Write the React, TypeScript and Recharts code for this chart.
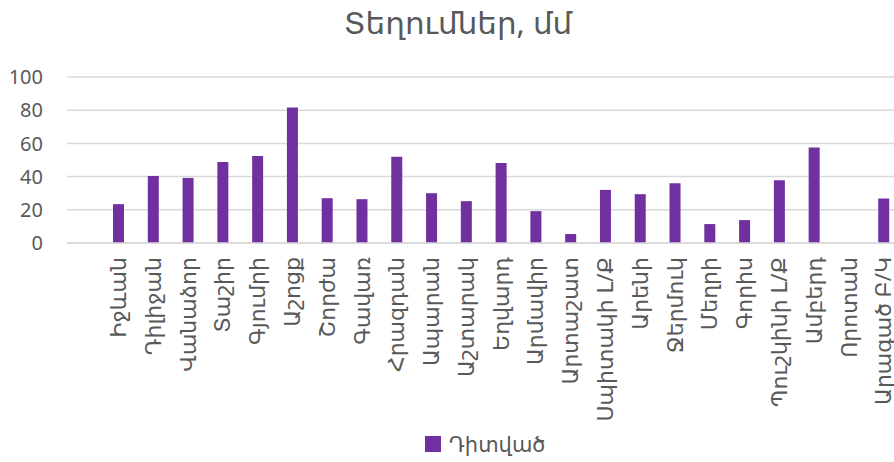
import { BarChart, Bar, XAxis, YAxis, CartesianGrid } from "recharts";

const stations = [
  "Իջևան", "Դիլիջան", "Վանաձոր", "Տաշիր", "Գյումրի", "Աշոցք", "Շորժա", "Գավառ",
  "Հրազդան", "Ապարան", "Աշտարակ", "Եղվարդ", "Արմավիր", "Արտաշատ", "Սպիտակի Լ/Ք",
  "Արենի", "Ջերմուկ", "Մեղրի", "Գորիս", "Պուշկինի Լ/Ք", "Ամբերդ", "Որոտան", "Արագած Բ/Կ",
];
const observed = [
  23.4, 40.4, 39.2, 48.8, 52.4, 81.6, 27, 26.4, 52, 30, 25.2, 48.2, 19.2, 5.4, 32,
  29.4, 36, 11.4, 13.8, 37.8, 57.6, null, 26.8,
];
const yTicks = [0, 20, 40, 60, 80, 100];

const data = stations.map((name, i) => ({ name, observed: observed[i] }));

const FONT = "'Noto Sans', 'DejaVu Sans', sans-serif";
const TEXT = "#595959";
const PURPLE = "#7030A0";

function StationTick({ x, y, payload }: any) {
  return (
    <text
      x={x}
      y={y}
      dy="0.35em"
      transform={`rotate(-90 ${x} ${y})`}
      textAnchor="end"
      fill={TEXT}
      fontSize={22}
      fontFamily={FONT}
    >
      {payload.value}
    </text>
  );
}

export default function App() {
  return (
    <div style={{ position: "fixed", left: 0, top: 0, width: 894, height: 462, overflow: "hidden", background: "#fff" }}>
      <div
        style={{
          position: "absolute", left: 0, width: 916, top: 1, textAlign: "center",
          fontSize: 31, color: TEXT, fontFamily: FONT,
        }}
      >
        Տեղումներ, մմ
      </div>
      <BarChart
        width={910}
        height={462}
        data={data}
        margin={{ top: 77, right: 9, left: 0, bottom: 58 }}
      >
        <CartesianGrid vertical={false} stroke="#d9d9d9" strokeWidth={1.5} />
        <XAxis
          dataKey="name"
          interval={0}
          height={161}
          padding={{ left: 34, right: 0 }}
          tickLine={false}
          axisLine={{ stroke: "#d9d9d9", strokeWidth: 1.5 }}
          tick={<StationTick />}
          tickMargin={8}
        />
        <YAxis
          width={67}
          domain={[0, 100]}
          ticks={yTicks}
          axisLine={false}
          tickLine={false}
          tickMargin={18}
          tick={{ fill: TEXT, fontSize: 20, fontFamily: FONT }}
        />
        <Bar dataKey="observed" fill={PURPLE} barSize={11} isAnimationActive={false} />
      </BarChart>
      <div
        style={{
          position: "absolute", left: 425, top: 430, display: "flex", alignItems: "center",
          fontSize: 21, color: TEXT, fontFamily: FONT,
        }}
      >
        <span style={{ display: "inline-block", width: 16, height: 16, background: PURPLE, marginRight: 8 }} />
        Դիտված
      </div>
    </div>
  );
}
